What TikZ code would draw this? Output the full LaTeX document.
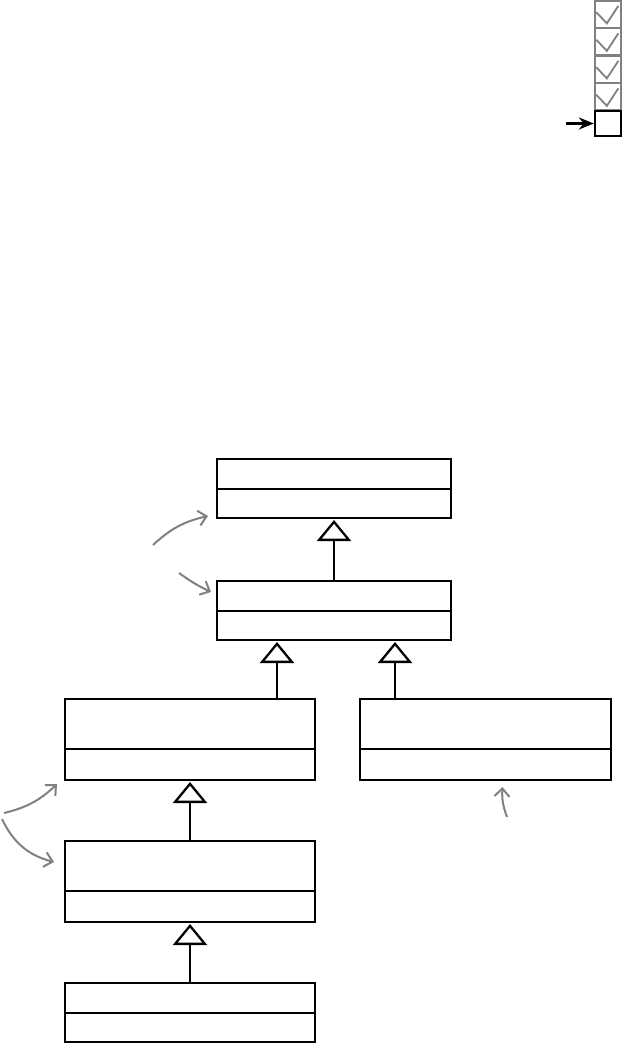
\documentclass[tikz,border=0pt]{standalone}
\usepackage{tikz}
\usetikzlibrary{arrows.meta,calc,positioning}
\definecolor{pencil}{gray}{0.5}

\begin{document}
\begin{tikzpicture}[x=1pt, y=-1pt,
    box/.style={draw, line width=2.3pt, minimum width=#1, inner sep=0pt, outer sep=0pt},
    inherits/.style={line width=2.3pt, -{Triangle[open, length=21pt, width=34pt]}, shorten >=2pt},
    note/.style={pencil, line width=2pt, -{Straight Barb[length=8pt, width=15pt]}},
    tickbox/.style={draw=pencil, line width=2.3pt, minimum width=26pt, minimum height=27.5pt, inner sep=0pt}]
  \useasboundingbox (0,0) rectangle (623,1043);

  % progress boxes
  \foreach \i in {1,...,4}{
    \node[tickbox] (c\i) at (608, {14.25+27.5*(\i-1)}) {};
    \draw[pencil, line width=1.8pt] ([shift={(2.5,13)}]c\i.north west) -- ([shift={(13,24)}]c\i.north west) -- ([shift={(24.5,6.5)}]c\i.north west);
  }
  \node[draw, line width=2.3pt, minimum width=26pt, minimum height=25pt, inner sep=0pt] (cur) at (608,123.5) {};
  \coordinate (ptr) at (566,123.5);
  \draw[line width=2.6pt, -{Stealth[length=15pt, width=12pt]}] (ptr) -- (cur);

  % classes
  \node[box=234pt, minimum height=30pt, anchor=north west] (aName) at (217,459) {};
  \node[box=234pt, minimum height=29pt, below=0pt of aName] (aBody) {};
  \node[box=234pt, minimum height=30pt, anchor=north west] (bName) at (217,581) {};
  \node[box=234pt, minimum height=29pt, below=0pt of bName] (bBody) {};
  \node[box=250pt, minimum height=50pt, anchor=north west] (cName) at (65,699) {};
  \node[box=250pt, minimum height=31pt, below=0pt of cName] (cBody) {};
  \node[box=251pt, minimum height=50pt, anchor=north west] (dName) at (360,699) {};
  \node[box=251pt, minimum height=31pt, below=0pt of dName] (dBody) {};
  \node[box=250pt, minimum height=50pt, anchor=north west] (eName) at (65,841) {};
  \node[box=250pt, minimum height=31pt, below=0pt of eName] (eBody) {};
  \node[box=250pt, minimum height=30pt, anchor=north west] (fName) at (65,983) {};
  \node[box=250pt, minimum height=29pt, below=0pt of fName] (fBody) {};

  % inheritance
  \coordinate (cUp) at ($(bBody.south west)+(60,0)$);
  \coordinate (dUp) at ($(bBody.south east)+(-56,0)$);
  \draw[inherits] (bName.north) -- (aBody.south);
  \draw[inherits] (cName.north -| cUp) -- (cUp);
  \draw[inherits] (dName.north -| dUp) -- (dUp);
  \draw[inherits] (eName.north) -- (cBody.south);
  \draw[inherits] (fName.north) -- (eBody.south);

  % pencil notes
  \coordinate (n1) at (153,545);
  \coordinate (n2) at (179,573);
  \coordinate (n3) at (4,813);
  \coordinate (n4) at (2,819);
  \coordinate (n5) at (507,817);
  \draw[note] (n1) to[bend left=15] ($(aBody.south west)+(-9,-2)$);
  \draw[note] (n2) to[bend right=5] ($(bName.west)+(-6,-4)$);
  \draw[note] (n3) to[bend right=15] ($(cBody.south west)+(-8,4)$);
  \draw[note] (n4) to[bend right=25] ($(eName.west)+(-11,-4)$);
  \draw[note] (n5) to[bend left=12] ($(dBody.south)+(17,7)$);
\end{tikzpicture}
\end{document}
